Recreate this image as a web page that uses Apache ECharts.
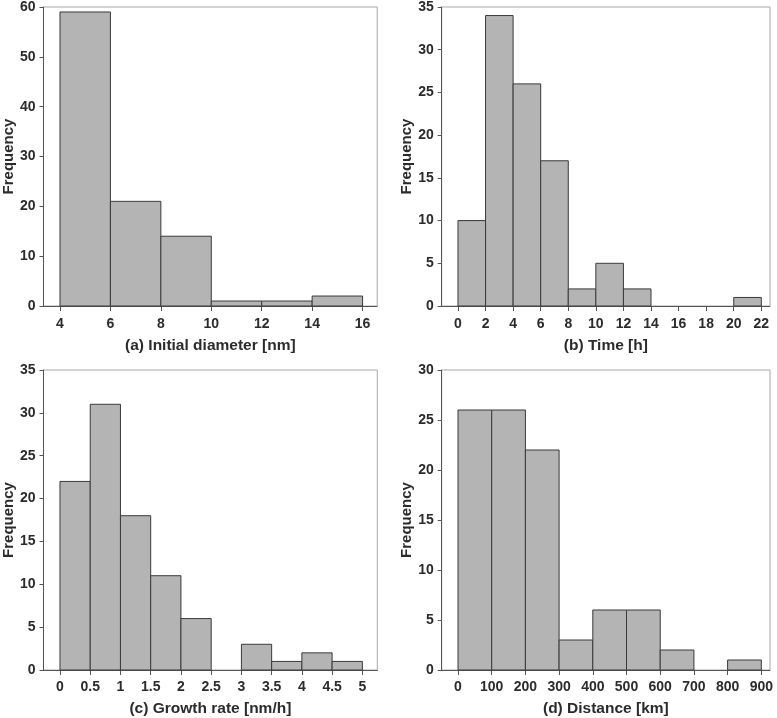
<!DOCTYPE html>
<html>
<head>
<meta charset="utf-8">
<script src="https://cdn.jsdelivr.net/npm/echarts@6/dist/echarts.min.js"></script>
<style>
html,body{margin:0;padding:0;background:#fff;}
#c{width:777px;height:718px;}
</style>
</head>
<body>
<div id="c"></div>
<script>
// ---- Data (bin edges, counts, tick labels) ----
const edgesA = [4, 6, 8, 10, 12, 14, 16];
const countsA = [59, 21, 14, 1, 1, 2];
const ticksA = [4, 6, 8, 10, 12, 14, 16];

const edgesB = [0, 2, 4, 6, 8, 10, 12, 14, 16, 18, 20, 22];
const countsB = [10, 34, 26, 17, 2, 5, 2, 0, 0, 0, 1];
const ticksB = [0, 2, 4, 6, 8, 10, 12, 14, 16, 18, 20, 22];

const edgesC = [0, 0.5, 1, 1.5, 2, 2.5, 3, 3.5, 4, 4.5, 5];
const countsC = [22, 31, 18, 11, 6, 0, 3, 1, 2, 1];
const ticksC = [0, 0.5, 1, 1.5, 2, 2.5, 3, 3.5, 4, 4.5, 5];

const edgesD = [0, 100, 200, 300, 400, 500, 600, 700, 800, 900];
const countsD = [26, 26, 22, 3, 6, 6, 2, 0, 1];
const ticksD = [0, 100, 200, 300, 400, 500, 600, 700, 800, 900];

const titleA = '(a) Initial diameter [nm]';
const titleB = '(b) Time [h]';
const titleC = '(c) Growth rate [nm/h]';
const titleD = '(d) Distance [km]';
const yTitle = 'Frequency';

// ---- Styling ----
const FONT = 'Liberation Sans, Arial, sans-serif';
const TXT = '#2b2b2b';
const AX = '#555555';
const BORDER = '#a8a8a8';
const BAR_FILL = '#b4b4b4';
const BAR_EDGE = '#3a3a3a';

function toData(edges, counts) {
  return counts.map((c, i) => [edges[i], edges[i + 1], c]);
}

const panels = [
  {grid:{left:41.7, top:5, width:335.5, height:301}, xmin:3.345, xmax:16.58, ymax:60, yint:10,
   edges:edgesA, counts:countsA, ticks:ticksA, title:titleA, nameGap:32, labelMargin:11},
  {grid:{left:441.7, top:5, width:328.3, height:301}, xmin:-1.18, xmax:22.63, ymax:35, yint:5,
   edges:edgesB, counts:countsB, ticks:ticksB, title:titleB, nameGap:32, labelMargin:11},
  {grid:{left:41.7, top:370, width:335.6, height:300.7}, xmin:-0.273, xmax:5.247, ymax:35, yint:5,
   edges:edgesC, counts:countsC, ticks:ticksC, title:titleC, nameGap:31, labelMargin:10},
  {grid:{left:441.7, top:370, width:328.3, height:300.7}, xmin:-48.4, xmax:925.8, ymax:30, yint:5,
   edges:edgesD, counts:countsD, ticks:ticksD, title:titleD, nameGap:31, labelMargin:10}
];

const grids = [], xAxes = [], yAxes = [], series = [];
panels.forEach((p, i) => {
  grids.push(Object.assign({show:true, borderColor:BORDER, borderWidth:1, backgroundColor:'#fff', containLabel:false}, p.grid));
  xAxes.push({
    type:'value', gridIndex:i, min:p.xmin, max:p.xmax,
    name:p.title, nameLocation:'middle', nameGap:p.nameGap,
    nameTextStyle:{fontFamily:FONT, fontWeight:'bold', fontSize:15.5, color:TXT},
    axisLine:{show:true, onZero:false, lineStyle:{color:AX, width:1}},
    axisTick:{show:true, inside:false, length:5, customValues:p.ticks, lineStyle:{color:AX, width:1}},
    axisLabel:{show:true, customValues:p.ticks, margin:p.labelMargin, fontFamily:FONT, fontWeight:'bold', fontSize:14, color:TXT,
      formatter: v => String(v)},
    splitLine:{show:false}
  });
  yAxes.push({
    type:'value', gridIndex:i, min:0, max:p.ymax, interval:p.yint,
    name:yTitle, nameLocation:'middle', nameGap:26, nameRotate:90,
    nameTextStyle:{fontFamily:FONT, fontWeight:'bold', fontSize:15, color:TXT},
    axisLine:{show:true, onZero:false, lineStyle:{color:AX, width:1}},
    axisTick:{show:true, inside:false, length:4, lineStyle:{color:AX, width:1}},
    axisLabel:{show:true, margin:8, fontFamily:FONT, fontWeight:'bold', fontSize:14, color:TXT},
    splitLine:{show:false}
  });
  series.push({
    type:'custom', xAxisIndex:i, yAxisIndex:i,
    data: toData(p.edges, p.counts),
    encode:{x:[0,1], y:2},
    renderItem: function(params, api) {
      const c = api.value(2);
      if (!c) return null;
      const tl = api.coord([api.value(0), c]);
      const br = api.coord([api.value(1), 0]);
      return {
        type:'rect',
        shape:{x:tl[0], y:tl[1], width:br[0]-tl[0], height:br[1]-tl[1]},
        style:{fill:BAR_FILL, stroke:BAR_EDGE, lineWidth:1}
      };
    },
    silent:true
  });
});

const chart = echarts.init(document.getElementById('c'), null, {renderer:'canvas'});
chart.setOption({
  animation:false,
  backgroundColor:'#fff',
  grid:grids, xAxis:xAxes, yAxis:yAxes, series:series
});
</script>
</body>
</html>
